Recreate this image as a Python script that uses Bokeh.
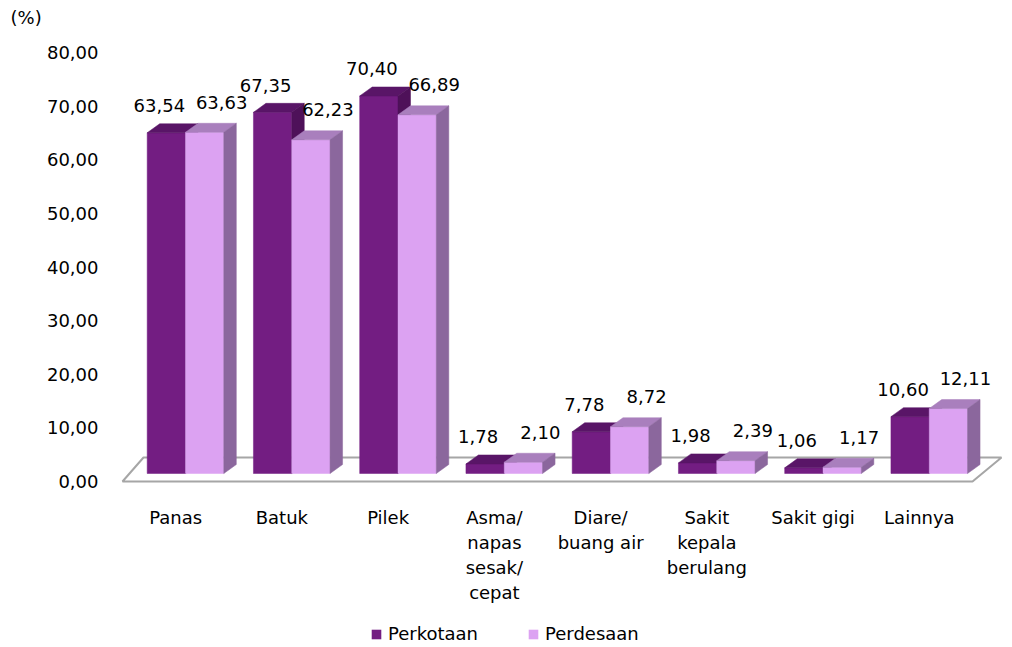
from bokeh.plotting import figure
from bokeh.layouts import column
from bokeh.models import (ColumnDataSource, FixedTicker, CustomJSTickFormatter,
                          Legend, LegendItem, Range1d)
from bokeh.core.properties import value
from bokeh.embed import file_html
from bokeh.resources import INLINE

# ---------------- data ----------------
categories = ["Panas", "Batuk", "Pilek", "Asma/\nnapas\nsesak/\ncepat",
              "Diare/\nbuang air", "Sakit\nkepala\nberulang", "Sakit gigi", "Lainnya"]
perkotaan = [63.54, 67.35, 70.40, 1.78, 7.78, 1.98, 1.06, 10.60]
perdesaan = [63.63, 62.23, 66.89, 2.10, 8.72, 2.39, 1.17, 12.11]
series_names = ["Perkotaan", "Perdesaan"]
y_ticks = [0, 10, 20, 30, 40, 50, 60, 70, 80]
unit_label = "(%)"

# ---------------- style ----------------
FONT = "DejaVu Sans"
FS = "18px"
W = 1012
H_MAIN, H_LEG = 607, 40
LEFT, RIGHT, TOP = 110, 7, 30
FRAME_BOTTOM = 497
BOTTOM = H_MAIN - FRAME_BOTTOM
PX_CAT = 106.25        # pixels per category slot
PX_UNIT = 5.3625       # pixels per percent
ZERO_PX_FROM_FRAME_BOTTOM = 16
X0_PX_FROM_FRAME_LEFT = 12

front_cols = ["#731D82", "#DCA2F2"]
top_cols = ["#591567", "#A97FBD"]
side_cols = ["#4E1159", "#8B679D"]

BASE = 8 / PX_UNIT
DX = 12.5 / PX_CAT
DY = 9 / PX_UNIT
BAR_W = 38.3 / PX_CAT
GROUP_LEFT = 24.7 / PX_CAT

x_start = -X0_PX_FROM_FRAME_LEFT / PX_CAT
x_end = x_start + (W - LEFT - RIGHT) / PX_CAT
y_start = -ZERO_PX_FROM_FRAME_BOTTOM / PX_UNIT
y_end = y_start + (H_MAIN - TOP - BOTTOM) / PX_UNIT

p = figure(width=W, height=H_MAIN, output_backend="svg", toolbar_location=None,
           x_range=Range1d(x_start, x_end), y_range=Range1d(y_start, y_end),
           min_border_left=LEFT, min_border_right=RIGHT,
           min_border_top=TOP, min_border_bottom=BOTTOM)
p.outline_line_color = None
p.grid.visible = False
p.background_fill_color = "white"

p.title.text = unit_label
p.title.align = "left"
p.title.offset = -100
p.title.standoff = 5
p.title.text_font = FONT
p.title.text_font_size = FS
p.title.text_font_style = "normal"
p.title.text_color = "#000000"

# floor
n = len(categories)
p.patch([0, n, n + 29 / PX_CAT, 21 / PX_CAT], [0, 0, 24 / PX_UNIT, 24 / PX_UNIT],
        fill_color="white", line_color="#A6A6A6", line_width=2)

sources = []
for s, vals in enumerate([perkotaan, perdesaan]):
    lefts = [i + GROUP_LEFT + s * BAR_W for i in range(n)]
    rights = [l + BAR_W for l in lefts]
    tops = [BASE + v for v in vals]
    src = ColumnDataSource(dict(left=lefts, right=rights, top=tops,
                                bottom=[BASE] * n))
    sources.append(src)
    p.quad(left="left", right="right", top="top", bottom="bottom", source=src,
           fill_color=front_cols[s], line_color=front_cols[s], line_width=0.5)
    top_xs = [[l, rr, rr + DX, l + DX] for l, rr in zip(lefts, rights)]
    top_ys = [[t, t, t + DY, t + DY] for t in tops]
    p.patches(top_xs, top_ys, fill_color=top_cols[s], line_color=top_cols[s], line_width=0.5)
    side_xs = [[rr, rr + DX, rr + DX, rr] for rr in rights]
    side_ys = [[BASE, BASE + DY, t + DY, t] for t in tops]
    p.patches(side_xs, side_ys, fill_color=side_cols[s], line_color=side_cols[s], line_width=0.5)

# value labels
for s, vals in enumerate([perkotaan, perdesaan]):
    xs = [i + GROUP_LEFT + s * BAR_W + BAR_W / 2 for i in range(n)]
    ys = [BASE + v for v in vals]
    txt = [f"{v:.2f}".replace(".", ",") for v in vals]
    p.text(xs, ys, text=txt, x_offset=[-7, 17][s], y_offset=[-27, -30][s],
           text_align="center", text_baseline="middle",
           text_font=value(FONT), text_font_size=value(FS), text_color="#000000")

# axes
p.yaxis.ticker = FixedTicker(ticks=y_ticks)
p.yaxis.formatter = CustomJSTickFormatter(code="return tick.toFixed(2).replace('.', ',');")
p.xaxis.ticker = FixedTicker(ticks=[i + 0.5 for i in range(n)])
p.xaxis.formatter = CustomJSTickFormatter(args=dict(labels=categories),
                                          code="return labels[Math.round(tick - 0.5)];")
for ax in (p.xaxis, p.yaxis):
    ax.axis_line_color = None
    ax.major_tick_line_color = None
    ax.minor_tick_line_color = None
    ax.major_label_text_font = FONT
    ax.major_label_text_font_size = FS
    ax.major_label_text_color = "#000000"
p.yaxis.major_label_standoff = 6
p.xaxis.major_label_standoff = 3

# legend strip (its own small figure; the legend glyphs come from the same bar sources,
# drawn in a range where they stay out of sight)
q = figure(width=W, height=H_LEG, output_backend="svg", toolbar_location=None,
           x_range=Range1d(1000, 1001), y_range=Range1d(1000, 1001),
           min_border=0, outline_line_color=None)
q.axis.visible = False
q.grid.visible = False
items = []
for s in range(2):
    r = q.quad(left="left", right="right", top="top", bottom="bottom", source=sources[s],
               fill_color=front_cols[s], line_color=None)
    items.append(LegendItem(label=series_names[s], renderers=[r]))
legend = Legend(items=items, orientation="horizontal", location=(260, 3),
                label_text_font=FONT, label_text_font_size=FS, label_text_color="#000000",
                glyph_width=12, glyph_height=12, label_standoff=6, spacing=49,
                border_line_color=None, background_fill_alpha=0, padding=2, margin=0)
q.add_layout(legend, "center")

open("out.html", "w").write(file_html(column(p, q, spacing=0), INLINE))
